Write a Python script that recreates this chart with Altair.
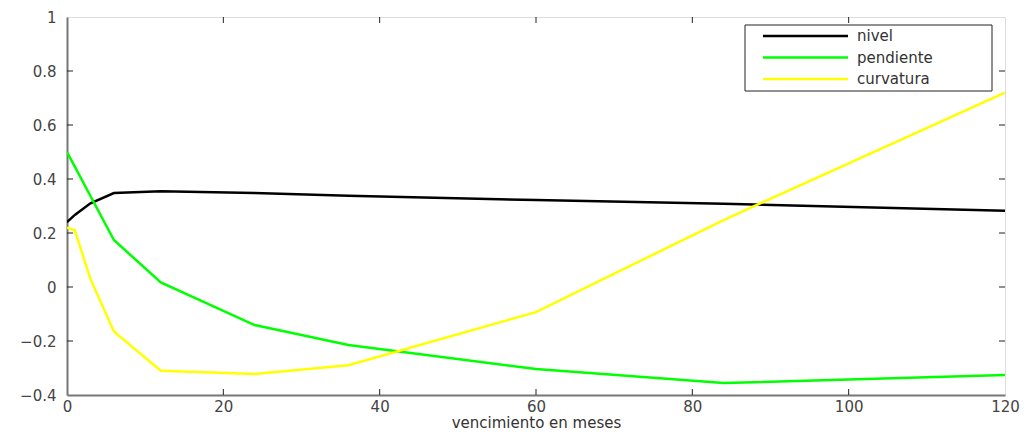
import altair as alt
import pandas as pd

# Data
maturities = [0, 1, 3, 6, 12, 24, 36, 60, 84, 120]
nivel = [0.24, 0.267, 0.31, 0.348, 0.355, 0.348, 0.338, 0.322, 0.308, 0.282]
pendiente = [0.50, 0.446, 0.337, 0.174, 0.017, -0.141, -0.215, -0.304, -0.356, -0.326]
curvatura = [0.22, 0.21, 0.03, -0.165, -0.31, -0.322, -0.29, -0.093, 0.248, 0.72]

series_names = ["nivel", "pendiente", "curvatura"]
series_colors = ["#000000", "#00ff00", "#ffff00"]
x_ticks = [0, 20, 40, 60, 80, 100, 120]
y_ticks = [-0.4, -0.2, 0, 0.2, 0.4, 0.6, 0.8, 1]

W, H = 938, 378
FONT = "DejaVu Sans"

rows = []
for name, vals in zip(series_names, [nivel, pendiente, curvatura]):
    for m, v in zip(maturities, vals):
        rows.append({"m": m, "v": v, "serie": name})
df = pd.DataFrame(rows)

xs = alt.Scale(domain=[0, 120], nice=False, zero=False)
ys = alt.Scale(domain=[-0.4, 1], nice=False, zero=False)

lines = alt.Chart(df).mark_line(strokeWidth=2.5, clip=True).encode(
    x=alt.X("m:Q", scale=xs,
            axis=alt.Axis(values=x_ticks, tickSize=0, labelPadding=4, title="vencimiento en meses",
                          titlePadding=1, titleFontWeight="normal", titleFontSize=15,
                          titleColor="#333333", labelColor="#444444", labelFontSize=15,
                          labelFont=FONT, titleFont=FONT, domainColor="#777777",
                          domainWidth=2, grid=False, labelFlush=False)),
    y=alt.Y("v:Q", scale=ys,
            axis=alt.Axis(values=y_ticks, format="~g", tickSize=0, labelPadding=11, title=None,
                          labelColor="#444444", labelFontSize=15, labelFont=FONT,
                          domainColor="#777777", domainWidth=2, grid=False, labelFlush=False)),
    color=alt.Color("serie:N", scale=alt.Scale(domain=series_names, range=series_colors), legend=None),
    order=alt.Order("m:Q"),
)

xt_df = pd.DataFrame({"t": x_ticks[1:-1]})
yt_df = pd.DataFrame({"t": y_ticks[1:-1]})
TL = 6
xtick_b = alt.Chart(xt_df).mark_rule(color="#222222", strokeWidth=1).encode(
    x=alt.X("t:Q", scale=xs), y=alt.value(H), y2=alt.value(H - TL))
xtick_t = alt.Chart(xt_df).mark_rule(color="#222222", strokeWidth=1).encode(
    x=alt.X("t:Q", scale=xs), y=alt.value(0), y2=alt.value(TL))
ytick_l = alt.Chart(yt_df).mark_rule(color="#222222", strokeWidth=1).encode(
    y=alt.Y("t:Q", scale=ys), x=alt.value(0), x2=alt.value(TL))
ytick_r = alt.Chart(yt_df).mark_rule(color="#222222", strokeWidth=1).encode(
    y=alt.Y("t:Q", scale=ys), x=alt.value(W), x2=alt.value(W - TL))

# Legend box (manual, MATLAB style)
leg_df = pd.DataFrame({"a": [0]})
box = alt.Chart(leg_df).mark_rect(fill="white", stroke="#222222", strokeWidth=1).encode(
    x=alt.value(678), x2=alt.value(925), y=alt.value(8), y2=alt.value(74))
legend_layers = [box]
for i, (name, col) in enumerate(zip(series_names, series_colors)):
    yy = 19 + i * 21.5
    legend_layers.append(
        alt.Chart(leg_df).mark_rule(color=col, strokeWidth=2.5).encode(
            x=alt.value(696), x2=alt.value(781), y=alt.value(yy)))
    legend_layers.append(
        alt.Chart(leg_df).mark_text(text=name, align="left", baseline="middle", font=FONT,
                                    fontSize=15, color="#333333").encode(
            x=alt.value(790), y=alt.value(yy)))

chart = alt.layer(lines, xtick_b, xtick_t, ytick_l, ytick_r, *legend_layers).properties(
    width=W, height=H,
    autosize=alt.AutoSizeParams(type="none"),
    padding={"left": 59, "top": 9, "right": 21, "bottom": 40},
).configure_view(stroke="#222222", strokeWidth=1).configure(background="white")

chart.save("out.html", embed_options={"renderer": "svg", "actions": False})
